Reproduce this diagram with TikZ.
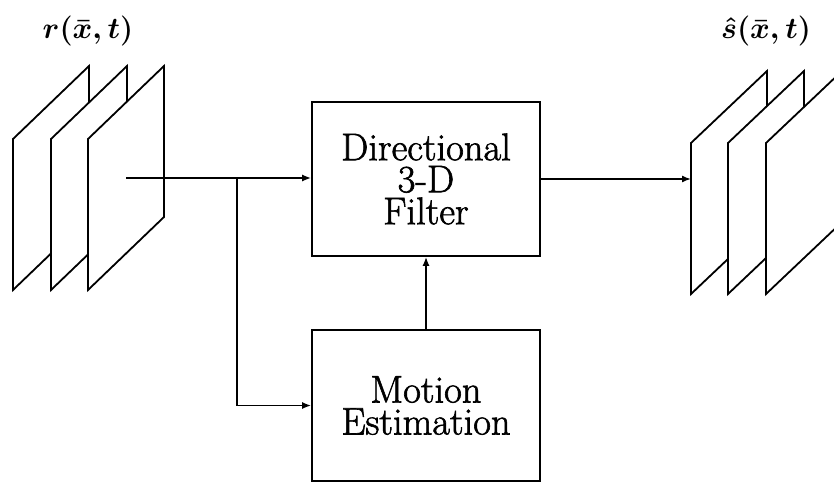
\RequirePackage{fix-cm}
\documentclass[tikz,border=0pt]{standalone}
\usepackage{amsmath}
\usepackage{fontspec}
\newfontfamily\heavyrm{Latin Modern Roman}[FakeBold=1.6]
\usetikzlibrary{arrows.meta}
\begin{document}
\begin{tikzpicture}[x=1pt,y=-1pt,
  frame/.style={draw=black,fill=white,line width=1.8pt,line join=miter},
  block/.style={draw=black,line width=1.8pt,minimum width=228pt,align=center,
    font=\heavyrm\fontsize{38.5}{32}\selectfont},
  flow/.style={line width=1.5pt,-{Latex[length=9pt,width=7pt]}},
  lbl/.style={font=\fontsize{30}{32}\selectfont}]
\useasboundingbox (0,0) rectangle (834,484);

% input sequence r(x,t): three frames, back to front
\foreach \x in {13,51,88}{
  \draw[frame] (\x,290) -- (\x,139) -- (\x+76,66) -- (\x+76,217) -- cycle;
}
\coordinate (in) at (126,178);
\node[lbl] (rlab) at (88,31) {$\boldsymbol{r(\bar{x},t)}$};

% output sequence s-hat(x,t): three frames, back to front
\foreach \x in {691,728,766}{
  \draw[frame] (\x,294) -- (\x,143) -- (\x+76,71) -- (\x+76,222) -- cycle;
}
\coordinate (out) at (691,181);
\node[lbl] (slab) at (766,31) {$\boldsymbol{\hat{s}(\bar{x},t)}$};

% processing blocks
\node[block,minimum height=154pt] (filter) at (426,179)
  {Directional\\3-D\\Filter};
\node[block,minimum height=151pt] (motion) at (426,405.5)
  {Motion\\Estimation};

% connectors
\coordinate (br) at (237,179);
\draw[flow] (in) -- (in -| filter.west);
\draw[flow] (br) |- (motion.west);
\draw[flow] (motion.north) -- (filter.south);
\draw[flow] (filter.east) -- (filter.east -| out);
\end{tikzpicture}
\end{document}
